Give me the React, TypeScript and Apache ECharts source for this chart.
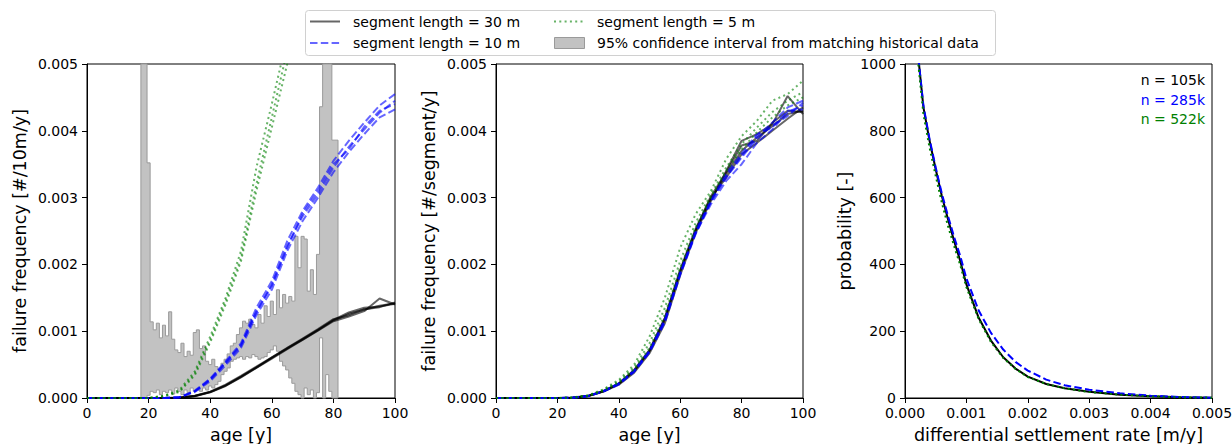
import React, { useEffect, useRef } from 'react';
import * as echarts from 'echarts';

const FONT = '"DejaVu Sans", sans-serif';

// ages (years) at which the simulated curves are sampled
const ages = [0, 5, 10, 15, 20, 25, 30, 35, 40, 45, 50, 55, 60, 65, 70, 75, 80, 85, 90, 95, 100];

// LEFT panel: failure frequency [x1e-3 #/10m/y]
const left30a = [0, 0, 0, 0, 0, 0, 0.005, 0.03, 0.09, 0.19, 0.32, 0.46, 0.6, 0.74, 0.88, 1.02, 1.16, 1.26, 1.32, 1.38, 1.42];
const left30b = [0, 0, 0, 0, 0, 0, 0.004, 0.027, 0.085, 0.18, 0.31, 0.45, 0.59, 0.73, 0.87, 1.01, 1.15, 1.22, 1.3, 1.49, 1.4];
const left30c = [0, 0, 0, 0, 0, 0, 0.006, 0.033, 0.095, 0.2, 0.33, 0.47, 0.61, 0.75, 0.89, 1.03, 1.18, 1.24, 1.33, 1.36, 1.43];
const left30d = [0, 0, 0, 0, 0, 0, 0.005, 0.031, 0.088, 0.185, 0.315, 0.455, 0.605, 0.745, 0.875, 1.015, 1.17, 1.28, 1.35, 1.37, 1.41];

const left10a = [0, 0, 0, 0, 0, 0, 0.01, 0.1, 0.27, 0.52, 0.78, 1.3, 1.68, 2.28, 2.72, 3.05, 3.45, 3.76, 4.02, 4.27, 4.45];
const left10b = [0, 0, 0, 0, 0, 0, 0.012, 0.11, 0.29, 0.55, 0.82, 1.35, 1.75, 2.35, 2.8, 3.15, 3.55, 3.85, 4.12, 4.38, 4.55];
const left10c = [0, 0, 0, 0, 0, 0, 0.008, 0.09, 0.25, 0.49, 0.75, 1.24, 1.62, 2.2, 2.65, 3.0, 3.38, 3.68, 3.95, 4.2, 4.32];
const left10d = [0, 0, 0, 0, 0, 0, 0.01, 0.1, 0.28, 0.53, 0.8, 1.28, 1.7, 2.25, 2.76, 3.1, 3.5, 3.72, 4.06, 4.3, 4.4];

const left5a = [0, 0, 0, 0, 0, 0.03, 0.1, 0.37, 0.87, 1.45, 2.1, 3.2, 4.2, 5.2, 6.2];
const left5b = [0, 0, 0, 0, 0, 0.035, 0.12, 0.4, 0.92, 1.5, 2.2, 3.45, 4.4, 5.4, 6.4];
const left5c = [0, 0, 0, 0, 0, 0.025, 0.09, 0.34, 0.83, 1.4, 2.05, 3.1, 4.05, 5.0, 6.0];

// LEFT panel: 95% confidence interval from historical data (1-year bins, centre ages) [x1e-3]
const ciAge = [18, 19, 20, 21, 22, 23, 24, 25, 26, 27, 28, 29, 30, 31, 32, 33, 34, 35, 36, 37, 38, 39, 40, 41, 42, 43, 44, 45, 46, 47, 48, 49, 50, 51, 52, 53, 54, 55, 56, 57, 58, 59, 60, 61, 62, 63, 64, 65, 66, 67, 68, 69, 70, 71, 72, 73, 74, 75, 76, 77, 78, 79, 80, 81];
const ciUpper = [9, 9, 3.52, 1.14, 1.02, 1.12, 0.9, 1.09, 0.93, 1.29, 0.88, 0.72, 0.68, 0.82, 0.62, 0.7, 0.64, 0.98, 1.02, 0.74, 0.78, 0.55, 0.5, 0.58, 0.47, 0.42, 0.52, 0.58, 0.66, 0.78, 0.82, 0.95, 1.05, 1.15, 1.12, 1.18, 1.1, 1.05, 1.25, 1.12, 1.38, 1.22, 1.45, 1.25, 1.62, 1.35, 1.55, 1.42, 1.52, 1.45, 2.42, 1.95, 2.42, 2.38, 1.6, 1.92, 1.55, 2.15, 4.36, 9, 9, 9, 3.86, 3.86];
const ciLower = [0, 0, 0.04, 0.1, 0.08, 0.12, 0.05, 0.1, 0.08, 0.12, 0.06, 0.15, 0.1, 0.05, 0.12, 0.08, 0.15, 0.1, 0.12, 0.1, 0.15, 0.12, 0.18, 0.15, 0.2, 0.25, 0.35, 0.4, 0.45, 0.55, 0.58, 0.6, 0.62, 0.58, 0.62, 0.6, 0.65, 0.62, 0.58, 0.6, 0.62, 0.68, 0.72, 0.78, 0.7, 0.55, 0.48, 0.42, 0.3, 0.22, 0.1, 0.05, 0, 0.15, 0.05, 0.12, 0, 0.08, 0.9, 0, 0.35, 0.1, 0, 0];

// MIDDLE panel: failure frequency [x1e-3 #/segment/y]
const mid30a = [0, 0, 0, 0, 0, 0.005, 0.03, 0.1, 0.21, 0.4, 0.7, 1.17, 1.89, 2.5, 2.97, 3.35, 3.7, 3.9, 4.07, 4.25, 4.3];
const mid30b = [0, 0, 0, 0, 0, 0.004, 0.028, 0.095, 0.2, 0.38, 0.67, 1.12, 1.84, 2.47, 2.95, 3.4, 3.85, 3.95, 4.1, 4.52, 4.25];
const mid30c = [0, 0, 0, 0, 0, 0.006, 0.032, 0.105, 0.22, 0.42, 0.72, 1.2, 1.92, 2.53, 3.0, 3.3, 3.65, 3.82, 4.0, 4.18, 4.35];
const mid30d = [0, 0, 0, 0, 0, 0.005, 0.031, 0.1, 0.215, 0.41, 0.71, 1.19, 1.9, 2.51, 3.02, 3.38, 3.78, 3.85, 4.12, 4.3, 4.28];

const mid10a = [0, 0, 0, 0, 0, 0.004, 0.028, 0.1, 0.21, 0.4, 0.69, 1.15, 1.86, 2.48, 2.93, 3.3, 3.6, 3.88, 4.08, 4.22, 4.42];
const mid10b = [0, 0, 0, 0, 0, 0.005, 0.03, 0.105, 0.22, 0.41, 0.71, 1.18, 1.88, 2.46, 2.9, 3.25, 3.5, 3.82, 4.02, 4.28, 4.38];
const mid10c = [0, 0, 0, 0, 0, 0.004, 0.027, 0.095, 0.2, 0.39, 0.68, 1.13, 1.84, 2.45, 2.95, 3.32, 3.62, 3.92, 4.12, 4.35, 4.45];
const mid10d = [0, 0, 0, 0, 0, 0.005, 0.029, 0.1, 0.215, 0.405, 0.7, 1.16, 1.87, 2.5, 2.96, 3.36, 3.66, 3.95, 4.05, 4.3, 4.32];

const mid5a = [0, 0, 0, 0, 0, 0.008, 0.04, 0.13, 0.27, 0.5, 0.92, 1.5, 2.25, 2.75, 3.1, 3.58, 3.92, 4.15, 4.45, 4.55, 4.75];
const mid5b = [0, 0, 0, 0, 0, 0.006, 0.035, 0.12, 0.25, 0.46, 0.82, 1.35, 2.05, 2.62, 3.05, 3.45, 3.8, 4.05, 4.28, 4.45, 4.58];
const mid5c = [0, 0, 0, 0, 0, 0.005, 0.03, 0.11, 0.23, 0.43, 0.75, 1.25, 1.95, 2.55, 3.0, 3.4, 3.72, 3.98, 4.2, 4.38, 4.5];

// RIGHT panel: probability density of differential settlement rate
const rate = [0.0002, 0.0003, 0.0004, 0.0005, 0.0006, 0.0007, 0.0008, 0.0009, 0.001, 0.0012, 0.0014, 0.0016, 0.0018, 0.002, 0.0023, 0.0026, 0.003, 0.0035, 0.004, 0.0045, 0.005];
const prob30 = [1050, 870, 770, 685, 605, 535, 470, 410, 340, 240, 172, 122, 88, 64, 42, 29, 19, 10, 5, 2, 1];
const prob10 = [1050, 875, 775, 690, 612, 545, 482, 425, 358, 262, 195, 145, 108, 82, 55, 38, 25, 14, 7, 3, 1];
const prob5 = [1030, 850, 750, 665, 585, 515, 455, 398, 332, 236, 168, 120, 87, 63, 42, 29, 18, 10, 5, 2, 1];

const nLabels = ['n = 105k', 'n = 285k', 'n = 522k'];

const C30 = 'rgba(0,0,0,0.6)';
const C10 = 'rgba(0,0,255,0.6)';
const C5 = 'rgba(0,128,0,0.6)';
const LW = 2;
const DASH = [7.5, 3.3];
const DOT = [2, 3.3];

function ageLine(values: number[], grid: number, color: string, type: any) {
  return {
    type: 'line',
    xAxisIndex: grid,
    yAxisIndex: grid,
    data: values.map((v, i) => [ages[i], v * 1e-3]),
    symbol: 'none',
    silent: true,
    clip: true,
    z: 3,
    lineStyle: { color, width: LW, type },
  };
}

function rateLine(values: number[], color: string, type: any, width: number) {
  return {
    type: 'line',
    xAxisIndex: 2,
    yAxisIndex: 2,
    data: values.map((v, i) => [rate[i], v]),
    symbol: 'none',
    silent: true,
    clip: true,
    z: 3,
    lineStyle: { color, width, type },
  };
}

const axisCommon = {
  axisLine: { show: true, onZero: false, lineStyle: { color: '#000', width: 1 } },
  axisTick: { show: true, inside: false, length: 5, lineStyle: { color: '#000', width: 1 } },
  splitLine: { show: false },
  nameLocation: 'middle',
  nameTextStyle: { color: '#000', fontSize: 17.5, fontFamily: FONT },
};

function xAx(grid: number, max: number, interval: number, name: string, dec: number) {
  return {
    ...axisCommon,
    type: 'value',
    gridIndex: grid,
    min: 0,
    max,
    interval,
    name,
    nameGap: 28,
    axisLabel: {
      color: '#000', fontSize: 14, fontFamily: FONT, margin: 8,
      formatter: (v: number) => v.toFixed(dec),
    },
  };
}

function yAx(grid: number, max: number, interval: number, name: string, dec: number, gap: number) {
  return {
    ...axisCommon,
    type: 'value',
    gridIndex: grid,
    min: 0,
    max,
    interval,
    name,
    nameGap: gap,
    axisLabel: {
      color: '#000', fontSize: 14, fontFamily: FONT, margin: 9,
      formatter: (v: number) => v.toFixed(dec),
    },
  };
}

const ciSeries = {
  type: 'custom',
  xAxisIndex: 0,
  yAxisIndex: 0,
  silent: true,
  z: 1,
  data: [[50, 0.001]],
  renderItem: (params: any, api: any) => {
    const cs = params.coordSys;
    const top = cs.y;
    const bottom = cs.y + cs.height;
    const cl = (p: number[]) => [p[0], Math.max(top, Math.min(bottom, p[1]))];
    const pts: number[][] = [];
    for (let i = 0; i < ciAge.length; i++) {
      pts.push(cl(api.coord([ciAge[i] - 0.5, ciUpper[i] * 1e-3])));
      pts.push(cl(api.coord([ciAge[i] + 0.5, ciUpper[i] * 1e-3])));
    }
    for (let i = ciAge.length - 1; i >= 0; i--) {
      pts.push(cl(api.coord([ciAge[i] + 0.5, ciLower[i] * 1e-3])));
      pts.push(cl(api.coord([ciAge[i] - 0.5, ciLower[i] * 1e-3])));
    }
    return {
      type: 'polygon',
      shape: { points: pts },
      style: { fill: '#c2c2c2', stroke: '#9a9a9a', lineWidth: 1 },
    };
  },
};

const legendGraphic = [
  { type: 'rect', shape: { x: 305.5, y: 10.5, width: 690, height: 45, r: 3 }, style: { fill: '#fff', stroke: '#d0d0d0', lineWidth: 1 }, z: 10 },
  { type: 'line', shape: { x1: 310, y1: 21.5, x2: 340, y2: 21.5 }, style: { stroke: C30, lineWidth: LW }, z: 11 },
  { type: 'text', x: 353, y: 21.5, style: { text: 'segment length = 30 m', font: `14px ${FONT}`, fill: '#000', verticalAlign: 'middle' }, z: 11 },
  { type: 'line', shape: { x1: 310, y1: 43, x2: 340, y2: 43 }, style: { stroke: C10, lineWidth: LW, lineDash: DASH }, z: 11 },
  { type: 'text', x: 353, y: 43, style: { text: 'segment length = 10 m', font: `14px ${FONT}`, fill: '#000', verticalAlign: 'middle' }, z: 11 },
  { type: 'line', shape: { x1: 554, y1: 21.5, x2: 585, y2: 21.5 }, style: { stroke: C5, lineWidth: LW, lineDash: DOT }, z: 11 },
  { type: 'text', x: 597, y: 21.5, style: { text: 'segment length = 5 m', font: `14px ${FONT}`, fill: '#000', verticalAlign: 'middle' }, z: 11 },
  { type: 'rect', shape: { x: 554.5, y: 37.5, width: 30, height: 11 }, style: { fill: '#c2c2c2', stroke: '#9a9a9a', lineWidth: 1 }, z: 11 },
  { type: 'text', x: 597, y: 43, style: { text: '95% confidence interval from matching historical data', font: `14px ${FONT}`, fill: '#000', verticalAlign: 'middle' }, z: 11 },
  { type: 'text', x: 1205, y: 80, style: { text: nLabels[0], font: `14px ${FONT}`, fill: '#000', align: 'right', verticalAlign: 'middle' }, z: 11 },
  { type: 'text', x: 1205, y: 100, style: { text: nLabels[1], font: `14px ${FONT}`, fill: '#0000ff', align: 'right', verticalAlign: 'middle' }, z: 11 },
  { type: 'text', x: 1205, y: 119, style: { text: nLabels[2], font: `14px ${FONT}`, fill: '#008000', align: 'right', verticalAlign: 'middle' }, z: 11 },
];

const gridBase = { top: 64, height: 334, show: true, borderColor: '#000', borderWidth: 1, backgroundColor: 'transparent', containLabel: false, outerBoundsMode: 'none' };

const option: any = {
  animation: false,
  backgroundColor: '#fff',
  grid: [
    { ...gridBase, left: 87, width: 308 },
    { ...gridBase, left: 496, width: 307 },
    { ...gridBase, left: 905, width: 307 },
  ],
  xAxis: [
    xAx(0, 100, 20, 'age [y]', 0),
    xAx(1, 100, 20, 'age [y]', 0),
    xAx(2, 0.005, 0.001, 'differential settlement rate [m/y]', 3),
  ],
  yAxis: [
    yAx(0, 0.005, 0.001, 'failure frequency [#/10m/y]', 3, 58),
    yAx(1, 0.005, 0.001, 'failure frequency [#/segment/y]', 3, 58),
    yAx(2, 1000, 200, 'probability [-]', 0, 51),
  ],
  graphic: legendGraphic,
  series: [
    ciSeries,
    ageLine(left30a, 0, C30, 'solid'),
    ageLine(left30b, 0, C30, 'solid'),
    ageLine(left30c, 0, C30, 'solid'),
    ageLine(left30d, 0, C30, 'solid'),
    ageLine(left10a, 0, C10, DASH),
    ageLine(left10b, 0, C10, DASH),
    ageLine(left10c, 0, C10, DASH),
    ageLine(left10d, 0, C10, DASH),
    ageLine(left5a, 0, C5, DOT),
    ageLine(left5b, 0, C5, DOT),
    ageLine(left5c, 0, C5, DOT),
    ageLine(mid30a, 1, C30, 'solid'),
    ageLine(mid30b, 1, C30, 'solid'),
    ageLine(mid30c, 1, C30, 'solid'),
    ageLine(mid30d, 1, C30, 'solid'),
    ageLine(mid10a, 1, C10, DASH),
    ageLine(mid10b, 1, C10, DASH),
    ageLine(mid10c, 1, C10, DASH),
    ageLine(mid10d, 1, C10, DASH),
    ageLine(mid5a, 1, C5, DOT),
    ageLine(mid5b, 1, C5, DOT),
    ageLine(mid5c, 1, C5, DOT),
    rateLine(prob30, '#000', 'solid', 2),
    rateLine(prob10, '#0000ff', DASH, 2),
    rateLine(prob5, '#008000', DOT, 2),
  ],
};

export default function App() {
  const ref = useRef<HTMLDivElement>(null);
  useEffect(() => {
    const chart = echarts.init(ref.current as HTMLDivElement, null, { renderer: 'svg' });
    chart.setOption(option);
    return () => chart.dispose();
  }, []);
  return (
    <div
      ref={ref}
      style={{ position: 'absolute', left: 0, top: 0, width: 1232, height: 444, background: '#fff' }}
    />
  );
}
